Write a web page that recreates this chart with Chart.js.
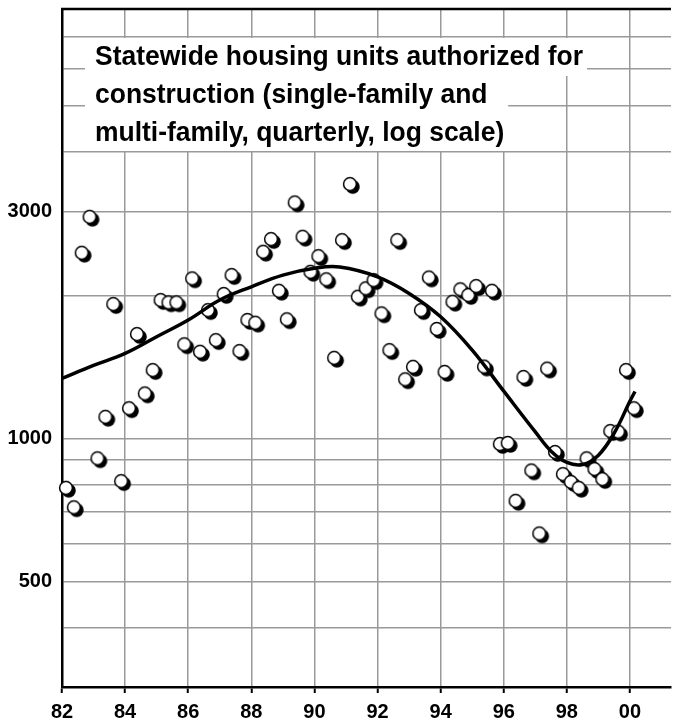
<!DOCTYPE html>
<html>
<head>
<meta charset="utf-8">
<script src="https://cdn.jsdelivr.net/npm/chart.js@4.4.1/dist/chart.umd.min.js"></script>
<style>
  html, body { margin: 0; padding: 0; background: #fff; }
  #wrap { width: 680px; height: 724px; }
</style>
</head>
<body>
<div id="wrap"><canvas id="permits" width="680" height="724"></canvas></div>
<script>
// Housing units authorized, by quarter (one entry per year, 1982..2000)
const years = [82, 83, 84, 85, 86, 87, 88, 89, 90, 91, 92, 93, 94, 95, 96, 97, 98, 99, 100];
const unitsQ1 = [787, 908, 1157, 1954, 2170, 2012, 1751, 1780, 2417, 3426, 1832, 1414, 1380, 2091, 978, 631, 810, 821, 1157];
const unitsQ2 = [716, 1110, 1657, 1932, 1521, 2205, 2469, 3135, 2160, 1986, 1533, 1861, 1938, 1416, 739, 1402, 787, 1036, null];
const unitsQ3 = [2457, 1916, 1243, 1932, 1861, 1526, 2625, 2655, 1477, 2068, 2612, 2179, 2058, 2044, 1346, 936, 908, 1033, null];
const unitsQ4 = [2924, 813, 1392, 1577, 1609, 1774, 2044, 2240, 2612, 2152, 1331, 1699, 2002, 973, 856, 841, 862, 1392, null];

// Smoothed trend through the quarterly values
const trendYears = [82, 83, 84, 85, 86, 87, 88, 89, 90, 90.8, 92, 93, 94, 95, 96, 97, 97.5, 98, 98.5, 99, 99.5, 100, 100.16];
const trendUnits = [1337, 1424, 1509, 1636, 1774, 1954, 2084, 2205, 2279, 2293, 2187, 2018, 1802, 1533, 1257, 1032, 940, 890, 881, 922, 1026, 1198, 1255];

// Axis ticks
const xTickYears = [82, 84, 86, 88, 90, 92, 94, 96, 98, 100];
const yGridValues = [400, 500, 600, 700, 800, 900, 1000, 2000, 3000, 4000, 5000, 6000, 7000];
const yLabelValues = [500, 1000, 3000];

const titleLines = [
  'Statewide housing units authorized for',
  'construction (single-family and',
  'multi-family, quarterly, log scale)'
];

const FONT_FAMILY = '"Liberation Sans Narrow", "Arial Narrow", "Liberation Sans", Arial, sans-serif';

// Build quarterly points
const quarterSeries = [unitsQ1, unitsQ2, unitsQ3, unitsQ4];
const points = [];
years.forEach((yr, i) => {
  quarterSeries.forEach((series, q) => {
    const v = series[i];
    if (v != null) points.push({ x: yr + (q + 0.5) / 4, y: v });
  });
});
const trend = trendYears.map((x, i) => ({ x, y: trendUnits[i] }));

// White dot with a black drop shadow
function makeMarker() {
  const c = document.createElement('canvas');
  c.width = 30; c.height = 30;
  const g = c.getContext('2d');
  g.fillStyle = '#000';
  g.beginPath(); g.arc(17.8, 17.8, 7.0, 0, Math.PI * 2); g.fill();
  g.fillStyle = '#fff'; g.strokeStyle = '#000'; g.lineWidth = 1.5;
  g.beginPath(); g.arc(15, 15, 6.4, 0, Math.PI * 2); g.fill(); g.stroke();
  return c;
}
const marker = makeMarker();

// Title block with white backing, plus the top frame line
const titlePlugin = {
  id: 'titleBlock',
  beforeDatasetsDraw(chart) {
    const { ctx, chartArea } = chart;
    ctx.save();
    // top frame
    ctx.strokeStyle = '#000';
    ctx.lineWidth = 2.5;
    ctx.beginPath();
    ctx.moveTo(chartArea.left - 1, chartArea.top);
    ctx.lineTo(chartArea.right, chartArea.top);
    ctx.stroke();

    ctx.font = 'bold 28px ' + FONT_FAMILY;
    const x0 = 95;
    const baselines = [65, 103, 141];
    const raw = titleLines.map(t => ctx.measureText(t).width);
    // condensed setting of the title face
    const sx = Math.min(1, 488 / raw[0]);
    const w = raw.map(v => v * sx);
    ctx.fillStyle = '#fff';
    ctx.fillRect(85, baselines[0] - 27, x0 - 85 + w[0] + 4, 38);
    ctx.fillRect(85, baselines[0] + 11, x0 - 85 + Math.max(w[1], w[2]) + 4, baselines[2] + 10 - (baselines[0] + 11));
    ctx.fillStyle = '#000';
    ctx.textBaseline = 'alphabetic';
    ctx.textAlign = 'left';
    titleLines.forEach((t, i) => {
      ctx.save();
      ctx.translate(x0, baselines[i]);
      ctx.scale(sx, 1);
      ctx.fillText(t, 0, 0);
      ctx.restore();
    });
    ctx.restore();
  }
};

new Chart(document.getElementById('permits'), {
  type: 'scatter',
  data: {
    datasets: [
      {
        type: 'line',
        label: 'Trend',
        data: trend,
        borderColor: '#000',
        borderWidth: 3.5,
        pointRadius: 0,
        fill: false,
        tension: 0.4,
        order: 0
      },
      {
        label: 'Units authorized',
        data: points,
        pointStyle: marker,
        pointRadius: 8,
        clip: false,
        order: 1
      }
    ]
  },
  options: {
    responsive: false,
    devicePixelRatio: 1,
    animation: false,
    layout: { padding: { top: 9, right: 8, left: 0, bottom: 0 } },
    plugins: { legend: { display: false }, tooltip: { enabled: false }, title: { display: false } },
    scales: {
      x: {
        type: 'linear',
        min: 82,
        max: 101.3,
        afterBuildTicks(axis) { axis.ticks = xTickYears.map(v => ({ value: v })); },
        afterFit(axis) { axis.height = 37; axis.paddingLeft = 0; axis.paddingRight = 0; },
        grid: {
          color: ctx => (ctx.tick && ctx.tick.value === 82) ? 'rgba(0,0,0,0)' : '#9a9a9a',
          lineWidth: 1.5,
          drawTicks: true,
          tickLength: 6,
          tickColor: '#000',
          tickWidth: 2
        },
        border: { display: true, color: '#000', width: 2.5 },
        ticks: {
          color: '#000',
          font: { family: FONT_FAMILY, size: 20, weight: 'bold' },
          padding: 7,
          maxRotation: 0,
          autoSkip: false,
          callback: v => String(Math.round(v) % 100).padStart(2, '0')
        }
      },
      y: {
        type: 'logarithmic',
        min: 300,
        max: 8000,
        afterBuildTicks(axis) { axis.ticks = yGridValues.map(v => ({ value: v })); },
        afterFit(axis) { axis.width = 62; axis.paddingTop = 0; axis.paddingBottom = 0; },
        grid: { color: '#9a9a9a', lineWidth: 1.5, drawTicks: false },
        border: { display: true, color: '#000', width: 2.5 },
        ticks: {
          color: '#000',
          font: { family: FONT_FAMILY, size: 20, weight: 'bold' },
          padding: 10,
          autoSkip: false,
          callback: v => yLabelValues.includes(v) ? String(v) : ''
        }
      }
    }
  },
  plugins: [titlePlugin]
});
</script>
</body>
</html>
